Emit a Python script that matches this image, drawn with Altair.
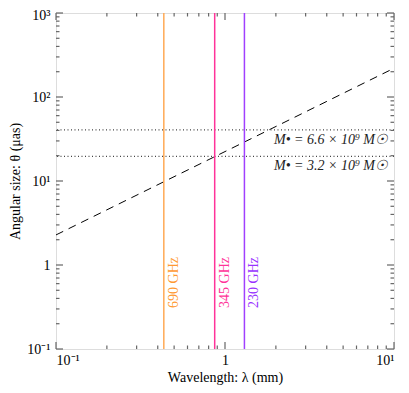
import altair as alt
import pandas as pd

# --- data ---
wl_line = [0.1, 10.0]
theta_line = [2.28, 220.0]

mass_theta = [40.5, 19.6]
mass_labels = ["M• = 6.6 × 10⁹ M☉", "M• = 3.2 × 10⁹ M☉"]

freq_wl = [0.4345, 0.869, 1.303]
freq_labels = ["690 GHz", "345 GHz", "230 GHz"]
freq_colors = ["#FFAA55", "#FF3399", "#A040FF"]
freq_text_colors = ["#FF9933", "#FF3399", "#9933FF"]
freq_label_y = [0.62, 0.62, 0.62]

x_major = [0.1, 1, 10]
x_labels = ["10⁻¹", "1", "10¹"]
y_major = [0.1, 1, 10, 100, 1000]
y_labels = ["10⁻¹", "1", "10¹", "10²", "10³"]

W, H = 338, 336
FONT = "Liberation Serif"
FRAME = "#666666"

x_minor = [m * d for d in [0.1, 1] for m in range(2, 10)]
y_minor = [m * d for d in [0.1, 1, 10, 100] for m in range(2, 10)]

xs = alt.Scale(type="log", domain=[0.1, 10], nice=False)
ys = alt.Scale(type="log", domain=[0.1, 1000], nice=False)

def expr_for(vals, labs):
    e = "''"
    for v, l in zip(vals, labs):
        e = f"abs(datum.value - {v}) < {v}*0.001 ? '{l}' : {e}"
    return e

x_axis = alt.Axis(values=x_major, labelExpr=expr_for(x_major, x_labels), ticks=False,
                  domain=False, grid=False, title="Wavelength: λ (mm)", labelFont=FONT,
                  labelFontSize=14, titleFont=FONT, titleFontSize=14, titleFontWeight="normal",
                  labelColor="black", titleColor="black", labelPadding=4, titlePadding=3)
y_axis = alt.Axis(values=y_major, labelExpr=expr_for(y_major, y_labels), ticks=False,
                  domain=False, grid=False, title="Angular size: θ (μas)", labelFont=FONT,
                  labelFontSize=14, titleFont=FONT, titleFontSize=14, titleFontWeight="normal",
                  labelColor="black", titleColor="black", labelPadding=6, titlePadding=4,
                  labelOffset=alt.condition("datum.value > 500", alt.value(2), alt.value(0)))

line_df = pd.DataFrame({"wl": wl_line, "theta": theta_line})
base_line = alt.Chart(line_df).mark_line(color="black", strokeWidth=1, strokeDash=[8, 6]).encode(
    x=alt.X("wl:Q", scale=xs, axis=x_axis),
    y=alt.Y("theta:Q", scale=ys, axis=y_axis),
)

mass_df = pd.DataFrame({"theta": mass_theta, "label": mass_labels, "wl": [10.0, 10.0]})
hrules = alt.Chart(mass_df).mark_rule(color="#444444", strokeWidth=1.2, strokeDash=[1, 2.5]).encode(
    y=alt.Y("theta:Q", scale=ys)
)
htext = alt.Chart(mass_df).mark_text(align="right", baseline="top", dx=-6, dy=3,
                                     font=FONT, fontSize=14, fontStyle="italic", color="#222222").encode(
    x=alt.X("wl:Q", scale=xs), y=alt.Y("theta:Q", scale=ys), text="label:N"
)

freq_df = pd.DataFrame({"wl": freq_wl, "label": freq_labels, "c": freq_colors,
                        "tc": freq_text_colors, "ty": freq_label_y})
vrules = alt.Chart(freq_df).mark_rule(strokeWidth=1.5).encode(
    x=alt.X("wl:Q", scale=xs), color=alt.Color("c:N", scale=None)
)
vtext = alt.Chart(freq_df).mark_text(angle=270, align="center", baseline="top", dy=3,
                                     font=FONT, fontSize=14).encode(
    x=alt.X("wl:Q", scale=xs), y=alt.Y("ty:Q", scale=ys), text="label:N",
    color=alt.Color("tc:N", scale=None)
)

def xticks(vals, length):
    df = pd.DataFrame({"v": vals})
    b = alt.Chart(df).mark_rule(color=FRAME, strokeWidth=1.2)
    bot = b.encode(x=alt.X("v:Q", scale=xs), y=alt.value(H), y2=alt.value(H - length))
    top = b.encode(x=alt.X("v:Q", scale=xs), y=alt.value(0), y2=alt.value(length))
    return [bot, top]

def yticks(vals, length):
    df = pd.DataFrame({"v": vals})
    b = alt.Chart(df).mark_rule(color=FRAME, strokeWidth=1.2)
    left = b.encode(y=alt.Y("v:Q", scale=ys), x=alt.value(0), x2=alt.value(length))
    right = b.encode(y=alt.Y("v:Q", scale=ys), x=alt.value(W), x2=alt.value(W - length))
    return [left, right]

layers = [base_line, hrules, htext, vrules, vtext]
layers += xticks(x_major, 7) + xticks(x_minor, 3.5) + yticks(y_major, 7) + yticks(y_minor, 3.5)

chart = alt.layer(*layers).properties(
    width=W, height=H,
    autosize=alt.AutoSizeParams(type="none"),
    padding={"left": 48, "top": 5, "right": 7, "bottom": 36},
).configure_view(
    stroke=FRAME, strokeWidth=1.5
).configure(background="white")

chart.save("out.html", embed_options={"renderer": "svg", "actions": False})
